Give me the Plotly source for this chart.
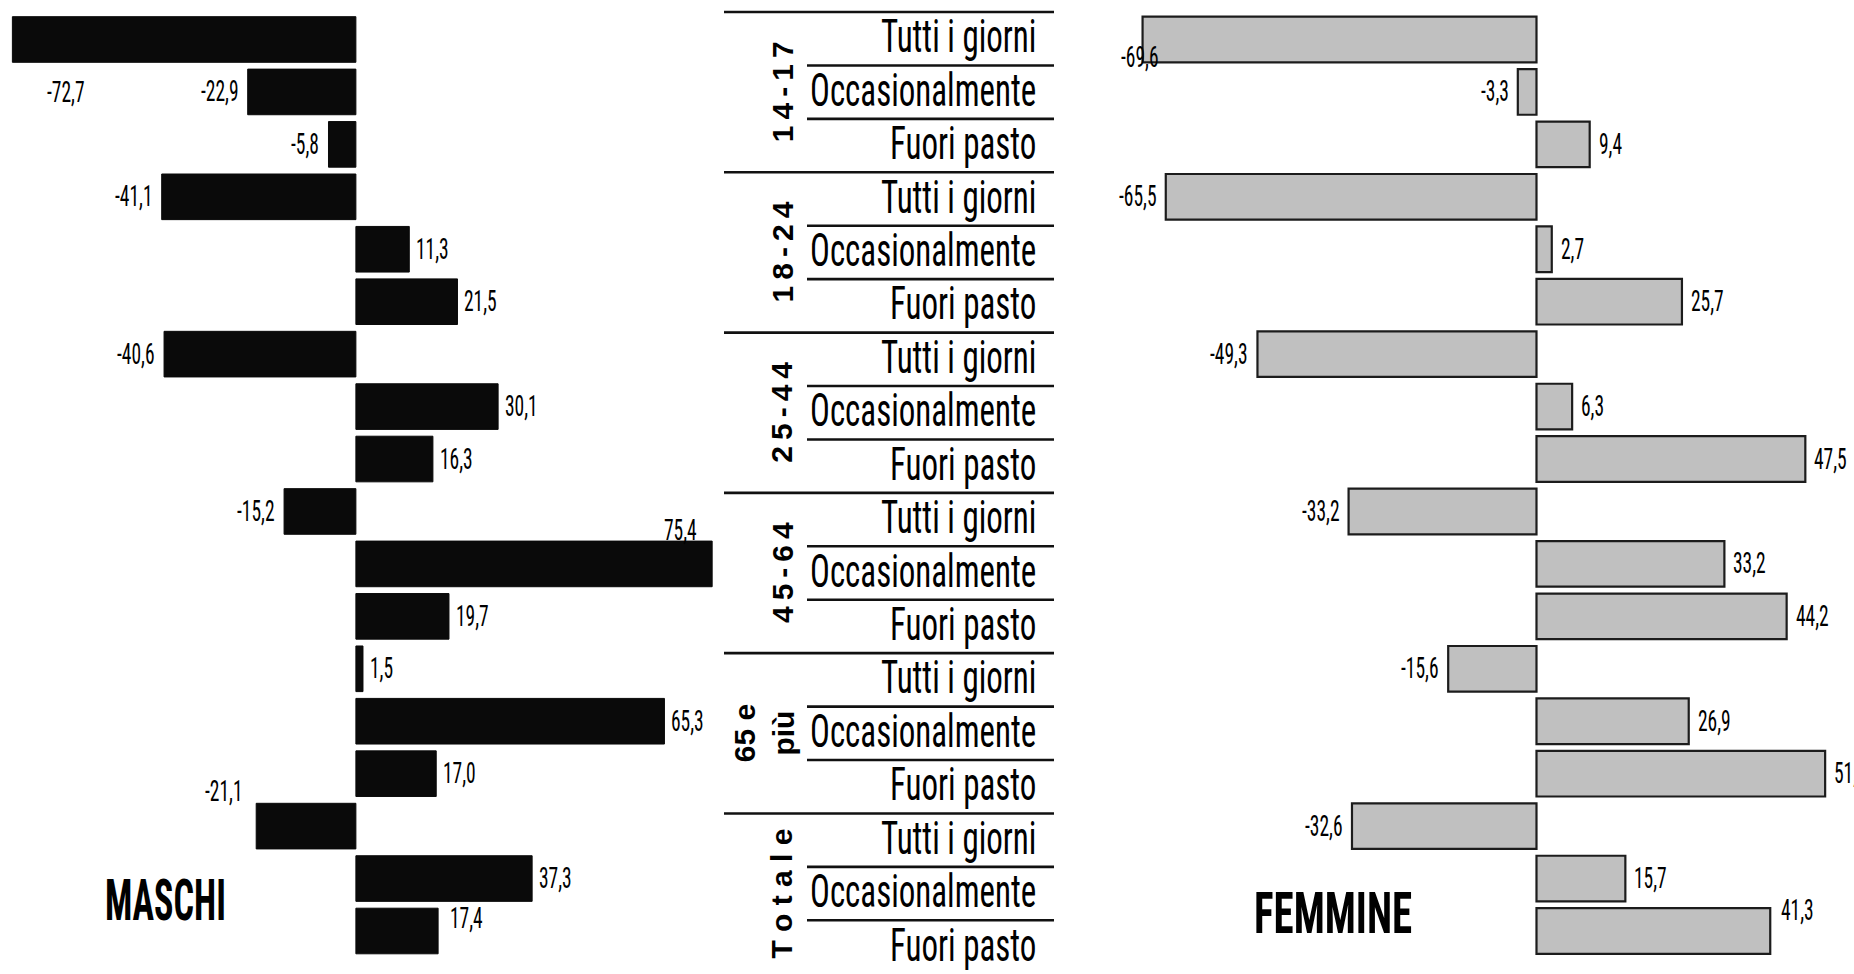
import json
import plotly.graph_objects as go

# ---------------- data ----------------
categorie = ["Tutti i giorni", "Occasionalmente", "Fuori pasto"]
classi_eta = ["1\u20094\u2009-\u20091\u20097", "1\u20098\u2009-\u20092\u20094", "2\u20095\u2009-\u20094\u20094",
              "4\u20095\u2009-\u20096\u20094", "65 e<br>più", "T o t a l e"]
maschi = [-72.7, -22.9, -5.8, -41.1, 11.3, 21.5, -40.6, 30.1, 16.3,
          -15.2, 75.4, 19.7, 1.5, 65.3, 17.0, -21.1, 37.3, 17.4]
femmine = [-69.6, -3.3, 9.4, -65.5, 2.7, 25.7, -49.3, 6.3, 47.5,
           -33.2, 33.2, 44.2, -15.6, 26.9, 51.0, -32.6, 15.7, 41.3]

n_rows = len(classi_eta) * len(categorie)
righe = list(range(n_rows))

# label placement exceptions (styling only): (xanchor, xshift, yshift)
label_speciali_m = {0: ("center", 54, -53), 10: ("right", -13, 33),
                    15: ("right", -11, 35), 17: ("left", 10, 13)}
label_speciali_f = {0: ("center", -3, -18), 17: ("left", 9, 21)}

NARROW = "Roboto Condensed, DejaVu Sans Condensed, sans-serif"
BOLD = "Liberation Sans, Arial, sans-serif"


def fmt(v):
    return f"{v:.1f}".replace(".", ",")


fig = go.Figure()
fig.add_trace(go.Bar(x=maschi, y=righe, orientation="h", xaxis="x", yaxis="y",
                     width=0.87, showlegend=False, hoverinfo="skip",
                     marker=dict(color="#0a0a0a", line=dict(color="#0a0a0a", width=1))))
fig.add_trace(go.Bar(x=femmine, y=righe, orientation="h", xaxis="x2", yaxis="y",
                     width=0.87, showlegend=False, hoverinfo="skip",
                     marker=dict(color="#c0c0c0", line=dict(color="#1c1c1c", width=2.2))))
fig.add_trace(go.Scatter(x=[None], y=[None], xaxis="x", yaxis="y2",
                         showlegend=False, hoverinfo="skip"))

ann = []
stretch = {}   # annotation index -> vertical stretch factor (text looks tall/narrow)
shapes = []


def add_ann(scale=None, **kw):
    if scale:
        stretch[len(ann)] = scale
    ann.append(kw)


def value_labels(vals, xref, speciali, gap_pos, gap_neg):
    for i, v in enumerate(vals):
        if i in speciali:
            xa, xs, ys = speciali[i]
        else:
            xa = "left" if v >= 0 else "right"
            xs = gap_pos if v >= 0 else -gap_neg
            ys = 0
        add_ann(scale=1.5, x=v, y=i, xref=xref, yref="y", text=fmt(v), showarrow=False,
                xanchor=xa, yanchor="middle", xshift=xs, yshift=ys,
                font=dict(family=NARROW, size=19.5, color="#000"))


value_labels(maschi, "x", label_speciali_m, 5, 7)
value_labels(femmine, "x2", label_speciali_f, 7, 7)

# middle table
x_grp_start, x_sub_start, x_end, x_text = 724 / 1854, 807 / 1854, 1054 / 1854, 1038 / 1854
for g, nome in enumerate(classi_eta):
    base = g * len(categorie)
    shapes.append(dict(type="line", xref="paper", yref="y2", x0=x_grp_start, x1=x_end,
                       y0=base - 0.5, y1=base - 0.5, line=dict(color="#111", width=2.6)))
    for k in range(1, len(categorie)):
        shapes.append(dict(type="line", xref="paper", yref="y2", x0=x_sub_start, x1=x_end,
                           y0=base + k - 0.5, y1=base + k - 0.5,
                           line=dict(color="#111", width=2.6)))
    for k, c in enumerate(categorie):
        add_ann(scale=1.4, x=x_text, y=base + k, xref="paper", yref="y2", text=c,
                showarrow=False, xanchor="right", yanchor="middle", yshift=3,
                font=dict(family=NARROW, size=33, color="#000"))
    two_lines = "<br>" in nome
    add_ann(x=(764 if two_lines else 782) / 1854, y=base + 1, xref="paper", yref="y2",
            text=f"<b>{nome}</b>", showarrow=False, textangle=-90,
            xanchor="center", yanchor="middle",
            font=dict(family=BOLD, size=30, color="#000"))

add_ann(scale=1.6, x=165 / 1854, y=1 - 901 / 974, xref="paper", yref="paper", text="<b>MASCHI</b>",
        showarrow=False, xanchor="center", yanchor="middle",
        font=dict(family=NARROW, size=36, color="#000"))
add_ann(scale=1.4, x=1333 / 1854, y=1 - 913 / 974, xref="paper", yref="paper", text="<b>FEMMINE</b>",
        showarrow=False, xanchor="center", yanchor="middle",
        font=dict(family=NARROW, size=41, color="#000"))

fig.update_layout(
    width=1854, height=974, margin=dict(l=0, r=0, t=0, b=0, pad=0),
    paper_bgcolor="white", plot_bgcolor="white", barmode="overlay", showlegend=False,
    xaxis=dict(domain=[0, 0.4], range=[-75.32, 81.63], visible=False, fixedrange=True),
    xaxis2=dict(domain=[0.6, 1.0], range=[-74.93, 56.10], visible=False, anchor="y", fixedrange=True),
    yaxis=dict(domain=[0, 1], range=[17.82, -0.753], visible=False, fixedrange=True),
    yaxis2=dict(domain=[0, 1], range=[17.505, -0.7246], visible=False, overlaying="y",
                anchor="x", fixedrange=True),
    annotations=ann, shapes=shapes,
)

js = """
document.body.style.margin='0';document.body.style.overflow='hidden';
var gd=document.getElementById('{plot_id}');
var S=%s;
function stretchText(){
  gd.querySelectorAll('g.annotation').forEach(function(g){
    var s=S[g.getAttribute('data-index')]; if(!s) return;
    var t=g.querySelector('text.annotation-text');
    if(!t||t.getAttribute('data-st')) return;
    var b=t.getBBox(); var cy=b.y+b.height/2;
    var old=t.getAttribute('transform')||'';
    t.setAttribute('transform', old+' translate(0,'+cy+') scale(1,'+s+') translate(0,'+(-cy)+')');
    t.setAttribute('data-st','1');
  });
}
stretchText();
""" % json.dumps({str(k): v for k, v in stretch.items()})

fig.write_html("out.html", config={"displayModeBar": False}, post_script=js)
